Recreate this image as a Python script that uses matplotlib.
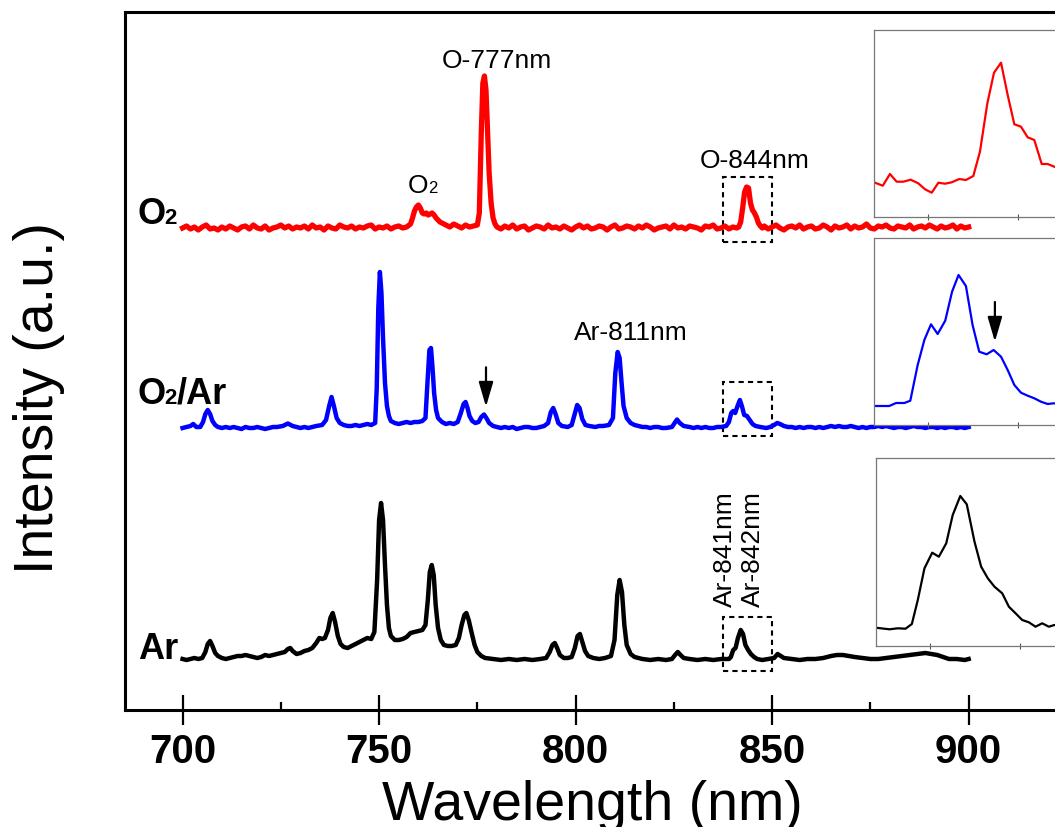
import numpy as np
import matplotlib
matplotlib.use("Agg")
import matplotlib.pyplot as plt
from matplotlib.patches import Rectangle

plt.rcParams['font.family'] = ['Liberation Sans', 'DejaVu Sans']

# ---- data (intensity in a.u.) ----
# O2 plasma, red
o2_nm = (list(range(700, 758))
         + [758, 758.5, 759, 759.5, 760, 760.5, 761, 761.5, 762, 762.5, 763, 763.5,
            764, 764.5, 765, 765.5, 766, 767, 768, 769, 770, 771, 772, 773, 774, 775,
            775.5, 776.0, 776.4, 776.8, 777.2, 777.6, 778.0, 778.5, 779.0, 779.5]
         + list(range(780, 842))
         + [841.5, 842, 842.5, 843, 843.5, 844, 844.5, 845, 845.5, 846, 846.5, 847, 847.5]
         + list(range(848, 901)))
o2_int = ([0, 2, -1, 1, -2, 1, 3, -1, 0, -2, 1, -1, 2, 0, -2, 1, 2, -1, 3, 0,
           -1, 2, -2, 0, 1, 3, 0, 2, -1, 1, 0, 2, -1, 3, 0, 1, -2, 2, 0, -1,
           3, 1, 0, 2, -1, 1, 0, 2, 3, -1, 1, 0, 2, -1, 1, 2, 0, 1]
          + [4, 10, 17, 21, 23, 20, 15, 14, 15, 13, 14, 15, 13, 10, 8, 6, 5, 3, 1, 4,
             2, 0, 3, 1, 2, 3, 15, 95, 145, 152, 138, 95, 55, 25, 10, 4]
          + [1, -1, 2, 0, 3, -1, 1, 2, -2, 0, 2, 1, -1, 3, 0, 1, -1, 2, 0, -2,
             1, 3, 0, 2, -1, 0, 2, 1, -2, 1, 3, -1, 0, 2, 1, -1, 2, 0, 3, 1,
             -2, 0, 1, 2, -1, 3, 0, 1, -1, 2, 1, 0, -2, 2, 1, 3, -1, 0, 2, -1, 1, 0]
          + [1, 6, 20, 36, 41, 40, 25, 18, 15, 11, 5, 2, 0]
          + [2, -1, 1, 3, 0, -2, 1, 2, 0, 3, -1, 1, 2, -1, 0, 3, 1, -2, 2, 0,
             1, 3, -1, 2, 0, 1, 4, 0, -1, 2, 1, 3, 0, -1, 2, 1, 0, 3, -1, 1,
             2, 0, 3, 1, -1, 2, 0, 1, 3, -1, 2, 0, 1])

# O2/Ar plasma, blue
mix_pts = [(700, 0), (701, 1), (702, 2), (702.7, 4), (703.5, 1), (704.5, 1), (705.2, 6),
           (705.8, 14), (706.4, 18), (707.0, 14), (707.6, 7), (708.3, 3), (709, 1), (710, 0),
           (711, 1), (712, 0), (713, 1), (714, 0), (715, -1), (716, 1), (717, 0), (718, 0),
           (719, 1), (720, 0), (721, -1), (722, 0), (723, 1), (724, 1), (725.5, 2), (726.8, 4.5),
           (728, 2), (729, 1), (730, 0), (731, 1), (732, 0), (733, 1), (734, 2), (735.5, 3),
           (736.5, 8), (737.3, 22), (737.9, 31), (738.5, 22), (739.2, 10), (740, 5), (741, 3),
           (742, 2), (743, 2), (744, 3), (745, 2), (746, 3), (747, 4), (748, 3), (749, 5),
           (749.4, 40), (749.8, 120), (750.2, 156), (750.6, 135), (751.0, 90), (751.5, 45),
           (752, 22), (752.5, 12), (753, 7), (754, 5), (755, 4), (756, 5), (757, 6), (758, 5),
           (759, 6), (760, 6), (761, 7), (761.8, 10), (762.3, 45), (762.8, 78), (763.2, 80),
           (763.6, 60), (764, 35), (764.5, 18), (765, 10), (766, 6), (767, 4), (768, 5),
           (769, 4), (770, 6), (770.8, 15), (771.5, 24), (772, 26), (772.5, 20), (773, 12),
           (773.7, 7), (774.5, 5), (775.3, 6), (776.0, 11), (776.7, 13.5), (777.3, 10),
           (778, 5), (779, 2), (780, 1), (781, 0), (782, 1), (783, 0), (784, 1), (785, -1),
           (786, 0), (787, 1), (788, 1), (789, 0), (790, 0), (791, 1), (792, 2), (793, 5),
           (793.7, 16), (794.3, 20), (794.9, 14), (795.6, 5), (796.5, 2), (798, 1), (799, 3),
           (799.7, 13), (800.4, 23), (801, 20), (801.7, 9), (802.5, 3), (803.5, 2), (805, 1),
           (806, 2), (807, 2), (808.5, 3), (809.5, 10), (810.1, 55), (810.7, 76), (811.2, 70),
           (811.7, 45), (812.2, 22), (813, 10), (814, 5), (815, 3), (816, 2), (817, 1),
           (818, 1), (819, 0), (820, 1), (821, 1), (822, 0), (823, 0), (824.5, 1), (825.2, 5),
           (825.8, 8.5), (826.5, 5), (827.5, 2), (829, 1), (830, 0), (831, 1), (832, 0),
           (833, 1), (834, 0), (835, 0), (836, 1), (837, 1), (838.3, 2), (839, 6),
           (839.6, 15), (840.1, 17), (840.6, 15), (841.2, 22), (841.8, 28), (842.3, 22),
           (842.9, 13), (843.6, 12), (844.3, 8), (845, 4), (845.8, 2), (847, 1), (848.5, 0),
           (849.5, 1), (850.5, 3), (851.3, 5), (852, 4), (853, 2), (854, 1), (855, 1),
           (856, 0), (857, 1), (858, 0), (859, 1), (860, 1), (861, 0), (862, 1), (863, 0),
           (864, 1), (865, 2), (866, 1), (867, 2), (868, 1), (869, 1), (870, 2), (871, 1),
           (872, 0), (873, 1), (874, 0), (875, 1), (876, 1), (877, 2), (878, 1), (879, 2),
           (880, 1), (881, 0), (882, 1), (883, 1), (884, 0), (885, 1), (886, 2), (887, 1),
           (888, 1), (889, 0), (890, 1), (891, 1), (892, 0), (893, 1), (894, 0), (895, 1),
           (896, 1), (897, 0), (898, 1), (899, 0), (900, 1)]

# Ar plasma, black
ar_pts = [(700, 1), (701, 0), (702, 1), (703, 2), (704, 1), (705, 2), (705.8, 8), (706.4, 16),
          (707, 19), (707.6, 14), (708.3, 7), (709, 4), (710, 2), (711, 1), (712, 2), (713, 3),
          (714, 4), (715, 4), (716, 5), (717, 4), (718, 3), (719, 2), (720, 3), (721, 5),
          (722, 4), (723, 5), (724, 6), (725, 7), (726, 8), (726.8, 11), (727.4, 12), (728, 9),
          (729, 6), (730, 7), (731, 9), (732, 10), (733, 12), (734, 17), (734.8, 22),
          (735.5, 21), (736.2, 22), (737, 30), (737.6, 42), (738.2, 47), (738.8, 38),
          (739.5, 24), (740.2, 16), (741, 13), (742, 12), (743, 14), (744, 16), (745, 18),
          (746, 20), (747, 22), (748, 21), (748.8, 28), (749.5, 80), (750.0, 140),
          (750.5, 157), (751.0, 140), (751.5, 95), (752, 55), (752.5, 32), (753, 24),
          (754, 20), (755, 20), (756, 21), (757, 23), (758, 27), (759, 28), (760, 29),
          (761, 30), (761.8, 35), (762.4, 60), (762.9, 88), (763.4, 95), (763.9, 85),
          (764.4, 55), (765, 32), (765.7, 20), (766.5, 15), (767.5, 14), (768.5, 14),
          (769.5, 15), (770.3, 22), (771, 35), (771.7, 45), (772.2, 47), (772.8, 40),
          (773.5, 28), (774.3, 15), (775, 8), (776, 4), (777, 2), (779, 1), (781, 0), (783, 1),
          (785, 0), (787, 1), (789, 0), (791, 1), (792.5, 2), (793.4, 8), (794.1, 15),
          (794.7, 17), (795.3, 12), (796, 5), (797, 2), (798, 2), (799, 3), (799.8, 12),
          (800.5, 24), (801.1, 26), (801.7, 18), (802.4, 9), (803.2, 4), (804.5, 2), (806, 1),
          (807.5, 2), (809, 4), (809.9, 20), (810.6, 65), (811.2, 80), (811.8, 68),
          (812.4, 35), (813, 15), (814, 6), (815, 3), (817, 1), (819, 0), (821, 1), (823, 0),
          (824.5, 1), (825.3, 5), (826, 8), (826.7, 5), (827.5, 2), (829, 1), (831, 0),
          (833, 1), (835, 0), (837, 1), (839, 1), (839.5, 3), (840.1, 10), (840.7, 12),
          (841.3, 22), (842, 30), (842.6, 26), (843.2, 15), (843.9, 10), (844.6, 6),
          (845.4, 3), (846.2, 1), (847.5, 0), (849, 1), (850.5, 2), (851.4, 6), (852.2, 4),
          (853, 2), (855, 1), (857, 0), (859, 1), (861, 1), (863, 2), (865, 4), (866.5, 5),
          (868, 5), (869.5, 4), (871, 3), (873, 2), (875, 1), (877, 1), (879, 2), (881, 3),
          (883, 4), (885, 5), (887, 6), (889, 7), (890.5, 6), (892, 5), (893.5, 3), (895, 1),
          (897, 1), (899, 0), (900, 1)]

# zoomed 837-850 nm windows (insets)
o2_zoom_nm = [837.04, 837.47, 837.87, 838.24, 838.61, 839.02, 839.44, 839.82, 840.19, 840.56,
              840.93, 841.30, 841.72, 842.09, 842.50, 842.87, 843.28, 843.65, 844.04, 844.41,
              844.78, 845.15, 845.52, 845.89, 846.30, 846.63, 847.0, 847.4, 847.8]
o2_zoom_int = [34, 31, 42.7, 35, 35, 37, 33.4, 27.4, 24, 34, 33, 34.4, 37.7, 36.7, 40.7, 65,
               113.4, 144, 154, 121.7, 92.4, 90, 79.4, 76.7, 52.7, 52.7, 50, 46, 44]
mix_zoom_nm = [837.0, 837.83, 838.21, 838.67, 839.0, 839.41, 839.78, 840.15, 840.52, 840.94,
               841.32, 841.68, 842.09, 842.46, 842.83, 843.24, 843.63, 844.04, 844.41, 844.78,
               845.15, 845.52, 845.89, 846.26, 846.63, 846.96, 847.3]
mix_zoom_int = [19, 19, 22, 22, 24.3, 60, 85, 100.7, 91, 104.3, 133.3, 150, 139, 100, 73.3,
                70.7, 75, 68.3, 55, 40, 32.3, 29.3, 26.7, 23.3, 21, 21.7, 21]
ar_zoom_nm = [837.0, 837.78, 838.24, 838.67, 839.02, 839.35, 839.72, 840.15, 840.52, 840.93,
              841.29, 841.71, 842.07, 842.5, 842.87, 843.24, 843.61, 844.04, 844.41, 844.78,
              845.15, 845.52, 845.89, 846.26, 846.63, 846.94, 847.3]
ar_zoom_int = [18.3, 16.7, 17.7, 17.3, 22, 46, 77.7, 93.3, 89.3, 102.7, 131, 150, 141.7, 104.3,
               79.3, 67.7, 59.3, 52.7, 39.3, 32.7, 26, 23.7, 19.3, 22.7, 19.3, 21, 20]

# vertical stacking of the three spectra
OFFSET_AR, OFFSET_MIX, OFFSET_O2 = 50, 282, 482

W, H = 1055, 827


def px_box(l, t, r, b):
	"""figure rect from pixel edges"""
	return [l / W, 1 - b / H, (r - l) / W, (b - t) / H]


def inset(rect, nm, inten, color, ytop):
	a = fig.add_axes(px_box(*rect))
	a.plot(nm, inten, color=color, lw=1.6)
	a.set_xlim(837, 850)
	a.set_ylim(0, ytop)
	a.set_xticks([840, 845])
	a.set_yticks([])
	a.tick_params(axis='x', direction='inout', length=4, width=0.8, colors='#555555',
				  labelbottom=False)
	for s in a.spines.values():
		s.set_color('#777777')
		s.set_linewidth(0.9)
	return a


fig = plt.figure(figsize=(W / 100, H / 100), dpi=100)
ax = fig.add_axes(px_box(124.8, 12, 1066.9, 710))

mix_nm, mix_int = np.array(mix_pts).T
ar_nm, ar_int = np.array(ar_pts).T

ax.plot(o2_nm, np.array(o2_int) + OFFSET_O2, color='#ff0000', lw=3.8)
ax.plot(mix_nm, mix_int + OFFSET_MIX, color='#0000ff', lw=3.2)
ax.plot(ar_nm, ar_int + OFFSET_AR, color='black', lw=3.2)

ax.set_xlim(685.3, 925)
ax.set_ylim(0, 698)
ax.set_yticks([])
ax.set_xticks([700, 750, 800, 850, 900])
ax.set_xticks([725, 775, 825, 875], minor=True)
ax.tick_params(axis='x', which='major', direction='inout', length=21.5, width=1.6, pad=6,
			   labelsize=29)
ax.tick_params(axis='x', which='minor', direction='in', length=5.5, width=1.6)
for lab in ax.get_xticklabels():
	lab.set_fontweight('bold')
for s in ax.spines.values():
	s.set_linewidth(2.2)

# axis titles
fig.text(592 / W, 1 - 820 / H, 'Wavelength (nm)', fontsize=40, ha='center', va='baseline')
fig.text(53 / W, 1 - 398 / H, 'Intensity (a.u.)', fontsize=40, rotation=90,
		 rotation_mode='anchor', ha='center', va='baseline')

# sample names on the left
ax.text(688.6, 486, 'O', fontsize=26, fontweight='bold')
ax.text(695.3, 486, '2', fontsize=16, fontweight='bold')
ax.text(688.6, 306, 'O', fontsize=26, fontweight='bold')
ax.text(695.3, 306, '2', fontsize=16, fontweight='bold')
ax.text(698.6, 306, '/Ar', fontsize=26, fontweight='bold')
ax.text(688.6, 51, 'Ar', fontsize=26, fontweight='bold')

# line labels
ax.text(780.0, 642, 'O-777nm', fontsize=19, ha='center')
ax.text(845.6, 542, 'O-844nm', fontsize=19, ha='center')
ax.text(757.4, 517, 'O', fontsize=19)
ax.text(762.6, 517, '2', fontsize=12)
ax.text(814.1, 370, 'Ar-811nm', fontsize=19, ha='center')
ax.text(839.7, 103, 'Ar-841nm', fontsize=19, rotation=90, rotation_mode='anchor',
		ha='left', va='baseline')
ax.text(846.9, 103, 'Ar-842nm', fontsize=19, rotation=90, rotation_mode='anchor',
		ha='left', va='baseline')

# dashed windows around 837-850 nm
for y0, y1 in [(468.3, 533.3), (274, 328.3), (39.3, 93.3)]:
	ax.add_patch(Rectangle((837.4, y0), 12.5, y1 - y0, fill=False, ec='black', lw=1.5,
						   ls=(0, (2.5, 2))))

arrow = dict(arrowstyle='-|>,head_length=0.75,head_width=0.22', color='black', lw=1.6,
			 shrinkA=0, shrinkB=0, mutation_scale=20)
ax.annotate('', xy=(777.2, 303.3), xytext=(777.2, 342.7), arrowprops=arrow)

# insets
inset((874.3, 30, 1108.3, 216.7), o2_zoom_nm, o2_zoom_int, '#ff0000', 186.7)
a2 = inset((874.3, 238.3, 1108.3, 425), mix_zoom_nm, mix_zoom_int, '#0000ff', 186.7)
a2.annotate('', xy=(843.7, 83.3), xytext=(843.7, 123), arrowprops=arrow)
inset((875.5, 457.7, 1109.5, 646), ar_zoom_nm, ar_zoom_int, 'black', 188.3)

fig.savefig('out.png', dpi=100)
